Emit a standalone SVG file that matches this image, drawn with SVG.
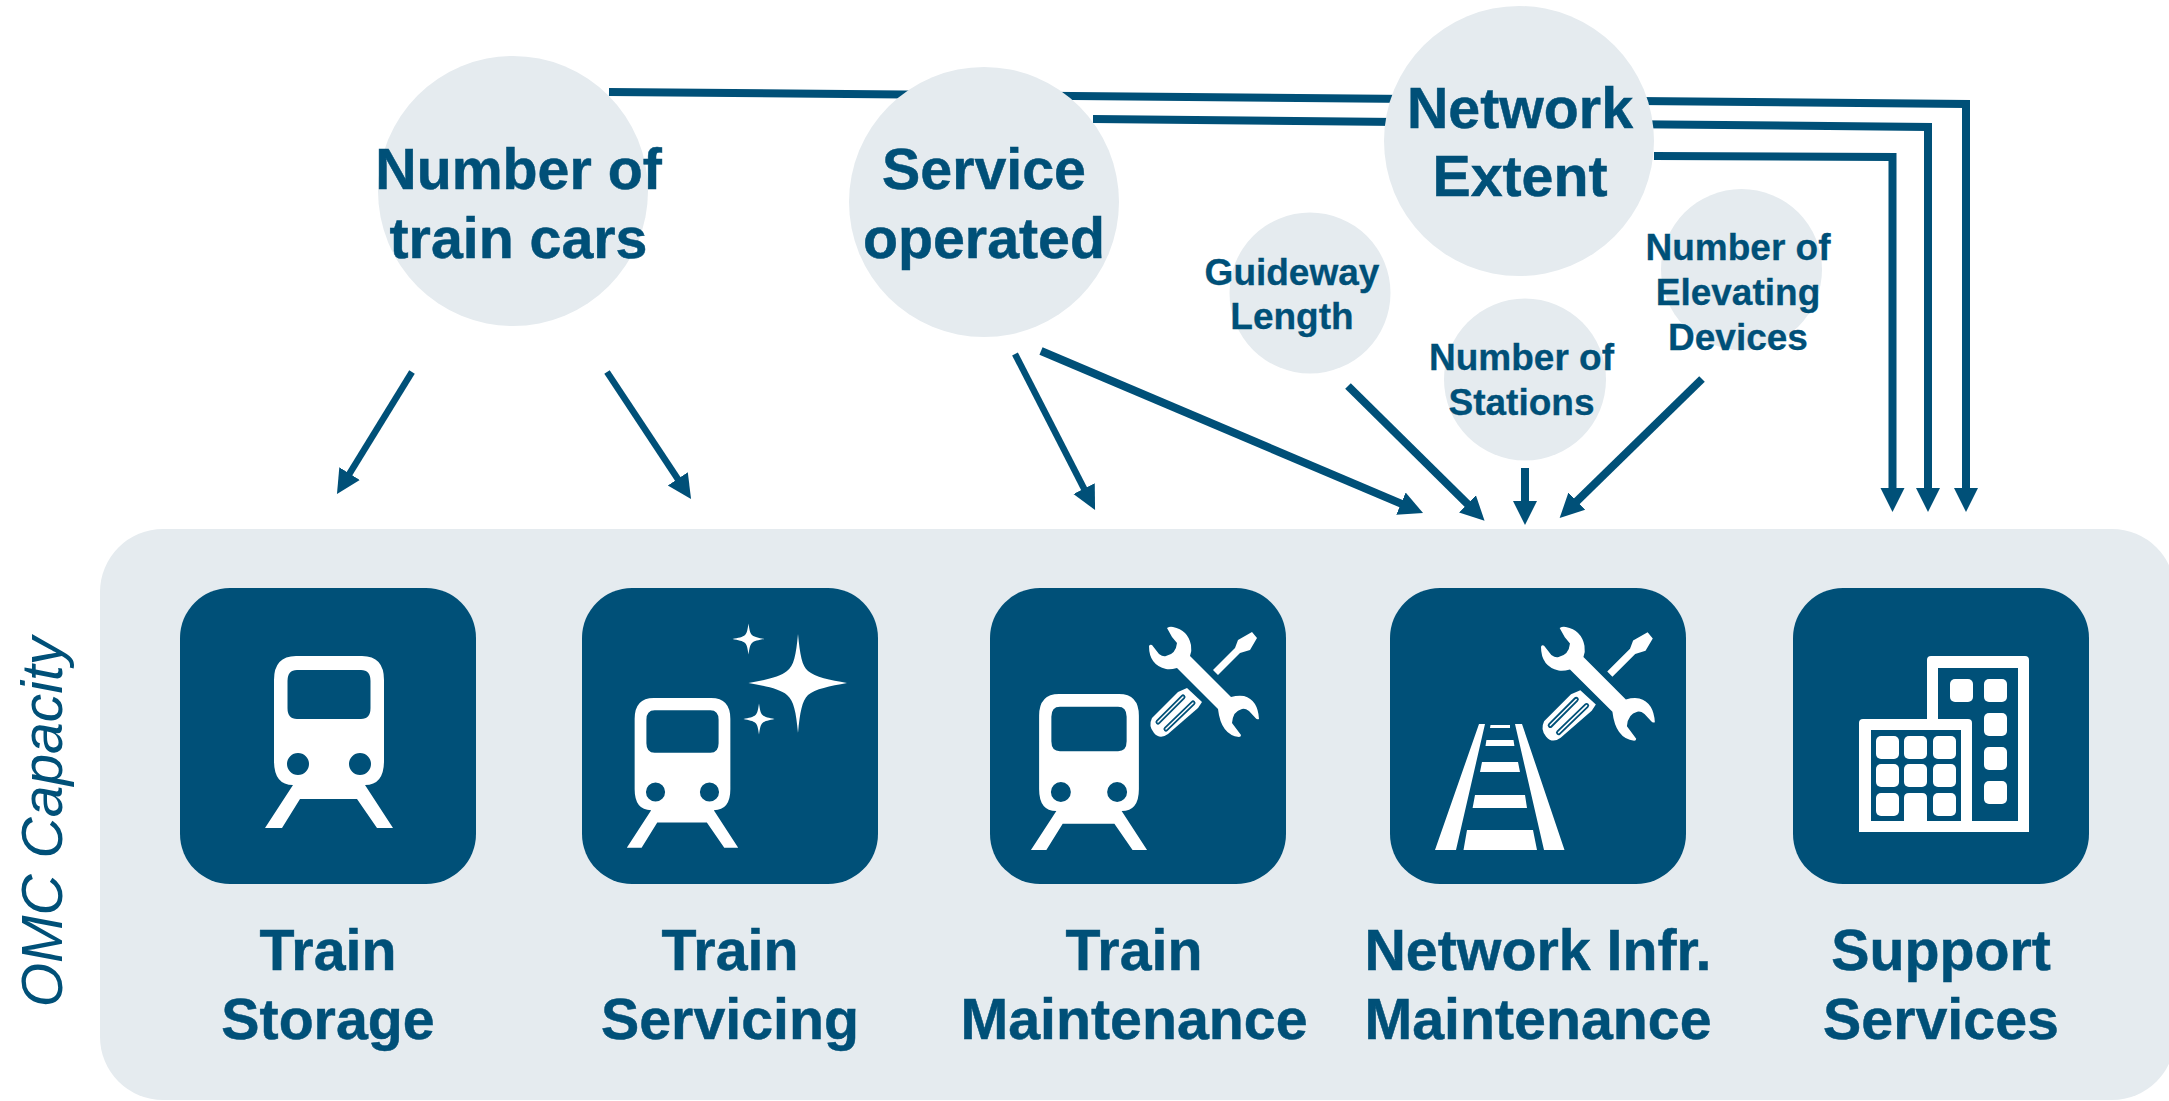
<svg xmlns="http://www.w3.org/2000/svg" xmlns:xlink="http://www.w3.org/1999/xlink" width="2169" height="1101" viewBox="0 0 2169 1101">
<style>
text{font-family:"Liberation Sans",Arial,sans-serif;font-weight:700;fill:#005078;text-anchor:middle}
.big{font-size:57.300px;stroke:#005078;stroke-width:.5}
.small{font-size:37px;stroke:#005078;stroke-width:.3}
.omc{font-size:57px;font-weight:400;font-style:italic}
.bubble{fill:#e5ebef}
.tile{fill:#005078}
.w{fill:#fff}
.link{fill:none;stroke:#005078;stroke-width:8;marker-end:url(#ah)}
.thin{stroke-width:6.500}
</style>
<defs>
<marker id="ah" markerUnits="userSpaceOnUse" markerWidth="30" markerHeight="30" refX="2" refY="13" orient="auto">
<path d="M0 1L24 13L0 25Z" fill="#005078"/>
</marker>
<g id="train">
<path class="w" fill-rule="evenodd" d="M-33 0H33Q55 0 55 24V105Q55 129 36 129L64 172H48L28 143H-29L-47 172H-64L-36 129Q-55 129 -55 105V24Q-55 0 -33 0ZM-32 14Q-41.500 14 -41.500 25V52Q-41.500 63 -32 63H32Q41.500 63 41.500 52V25Q41.500 14 32 14ZM-31 97A11 11 0 1 0 -31 119A11 11 0 1 0 -31 97ZM31 97A11 11 0 1 0 31 119A11 11 0 1 0 31 97Z"/>
</g>
<g id="tools">
<path class="w" d="M1167 628Q1170 626 1173 627Q1188 630 1191 645Q1192 651 1190 656L1231 697Q1238 695 1244 696Q1258 700 1259 719Q1257 720 1255.500 718L1249 711Q1245 708 1242 709Q1233 711 1232 723L1241 735Q1241 737 1239 737Q1221 735 1218 709L1177 668Q1170 670 1166 669Q1149 665 1149 646Q1150 644 1152 645L1159 654Q1163 657 1166 656Q1176 654 1177 643L1172 637Z"/>
<path class="w" d="M1213 670L1235 648L1238 640L1252 632L1257 638L1250 650L1240 653L1218 675Z"/>
<path class="w" d="M1187 688L1202 702L1198 708L1168 734Q1160 740 1154 733Q1148 726 1152 718L1178 692Z"/>
<path d="M1158 722L1183 697M1166 729L1193 703" fill="none" stroke="#005078" stroke-width="5" stroke-linecap="round"/>
<path d="M1158 722L1183 697M1166 729L1193 703" fill="none" stroke="#fff" stroke-width="1.500" stroke-linecap="round"/>
</g>
</defs>

<g id="connectors">
<path class="link thin" d="M412 372L348.500 475.300"/>
<path class="link thin" d="M607 372L678.900 480.600"/>
<path class="link thin" d="M1015 354L1085 490.400"/>
<path class="link" d="M1041 351L1402.800 504.400"/>
<path class="link" d="M1348 386L1468.900 505.300"/>
<path class="link" d="M1525 468V503"/>
<path class="link" d="M1702 379L1575.400 502.600"/>
<path class="link" d="M609 92L1966 104V490"/>
<path class="link" d="M1093 119L1928 127V490"/>
<path class="link" d="M1654 156L1892.500 157V490"/>
</g>

<g id="node-train-cars"><circle class="bubble" cx="513" cy="191" r="135"/><text class="big" x="518.500" y="189">Number of</text><text class="big" x="518.500" y="258">train cars</text></g>
<g id="node-service"><circle class="bubble" cx="984" cy="202" r="135"/><text class="big" x="984" y="189">Service</text><text class="big" x="984" y="258">operated</text></g>
<g id="node-network"><circle class="bubble" cx="1519" cy="141" r="135"/><text class="big" x="1520" y="128">Network</text><text class="big" x="1520" y="196">Extent</text></g>
<g id="node-guideway"><circle class="bubble" cx="1310" cy="293" r="80.500"/><text class="small" x="1292" y="284.500">Guideway</text><text class="small" x="1292" y="329">Length</text></g>
<g id="node-stations"><circle class="bubble" cx="1525" cy="379.500" r="81"/><text class="small" x="1521.500" y="370">Number of</text><text class="small" x="1521.500" y="415">Stations</text></g>
<g id="node-elevating"><circle class="bubble" cx="1741.500" cy="269.500" r="80.500"/><text class="small" x="1738" y="260">Number of</text><text class="small" x="1738" y="305">Elevating</text><text class="small" x="1738" y="350">Devices</text></g>

<g id="node-omc">
<rect class="bubble" x="100" y="529" width="2075" height="571" rx="63"/>
<text class="omc" transform="translate(62 822) rotate(-90)">OMC Capacity</text>
</g>

<g id="node-train-storage">
<rect class="tile" x="180" y="588" width="296" height="296" rx="50"/>
<use xlink:href="#train" href="#train" transform="translate(329 656)"/>
<text class="big" x="328" y="970">Train</text><text class="big" x="328" y="1039">Storage</text>
</g>
<g id="node-train-servicing">
<rect class="tile" x="582" y="588" width="296" height="296" rx="50"/>
<use xlink:href="#train" href="#train" transform="translate(682.500 698) scale(.87)"/>
<path class="w" d="M798 634C800 655 802 666 808 671C815 677 830 680 847 683C830 686 815 689 808 695C802 701 800 712 798 733C796 712 794 701 787 695C780 689 765 686 748.500 683C765 680 780 677 787 671C794 666 796 655 798 634Z"/>
<path class="w" d="M748.500 623.500C749.500 630 750 633 752 635C754 637 759 638 764.500 639C759 640 754 641 752 643C750 645 749.500 648 748.500 654.500C747.500 648 747 645 745 643C743 641 738 640 732.500 639C738 638 743 637 745 635C747 633 747.500 630 748.500 623.500Z"/>
<path class="w" d="M759 703.500C760 710 760.500 713 762.500 715C764.500 717 769.500 718 774.500 719C769.500 720 764.500 721 762.500 723C760.500 725 760 728 759 734.500C758 728 757.500 725 755.500 723C753.500 721 748.500 720 743.500 719C748.500 718 753.500 717 755.500 715C757.500 713 758 710 759 703.500Z"/>
<text class="big" x="730" y="970">Train</text><text class="big" x="730" y="1039">Servicing</text>
</g>
<g id="node-train-maintenance">
<rect class="tile" x="990" y="588" width="296" height="296" rx="50"/>
<use xlink:href="#train" href="#train" transform="translate(1089 694) scale(.907)"/>
<use xlink:href="#tools" href="#tools"/>
<text class="big" x="1134" y="970">Train</text><text class="big" x="1134" y="1039">Maintenance</text>
</g>
<g id="node-network-maintenance">
<rect class="tile" x="1390" y="588" width="296" height="296" rx="50"/>
<path class="w" d="M1479 724H1485L1456 850H1435ZM1515 724H1522L1564.500 850H1544ZM1490.500 725H1510V728H1490ZM1486.400 740H1513.500L1514.400 746H1485.500ZM1482 762H1518L1520 772H1480ZM1475 795H1525L1527 808H1472.600ZM1467 830H1533L1537 850H1463.500Z"/>
<use xlink:href="#tools" href="#tools" transform="translate(1541 627) scale(1.035) translate(-1149 -627)"/>
<text class="big" x="1538" y="970">Network Infr.</text><text class="big" x="1538" y="1039">Maintenance</text>
</g>
<g id="node-support">
<rect class="tile" x="1793" y="588" width="296" height="296" rx="50"/>
<path class="w" fill-rule="evenodd" d="M1927 660Q1927 656 1931 656H2025Q2029 656 2029 660V832H1859V723Q1859 719 1863 719H1927ZM1938 668V719H1968Q1972 719 1972 723V821H2018V668ZM1871 730V821H1904V798Q1904 793 1909 793H1922Q1927 793 1927 798V821H1961V730Z"/>
<g class="w">
<rect x="1950" y="679" width="23" height="23" rx="5"/><rect x="1984" y="679" width="23" height="23" rx="5"/>
<rect x="1984" y="713" width="23" height="23" rx="5"/><rect x="1984" y="747" width="23" height="23" rx="5"/><rect x="1984" y="781" width="23" height="23" rx="5"/>
<rect x="1876" y="736" width="23" height="23" rx="5"/><rect x="1904" y="736" width="23" height="23" rx="5"/><rect x="1933" y="736" width="23" height="23" rx="5"/>
<rect x="1876" y="764" width="23" height="23" rx="5"/><rect x="1904" y="764" width="23" height="23" rx="5"/><rect x="1933" y="764" width="23" height="23" rx="5"/>
<rect x="1876" y="793" width="23" height="23" rx="5"/><rect x="1933" y="793" width="23" height="23" rx="5"/>
</g>
<text class="big" x="1941" y="970">Support</text><text class="big" x="1941" y="1039">Services</text>
</g>
</svg>
